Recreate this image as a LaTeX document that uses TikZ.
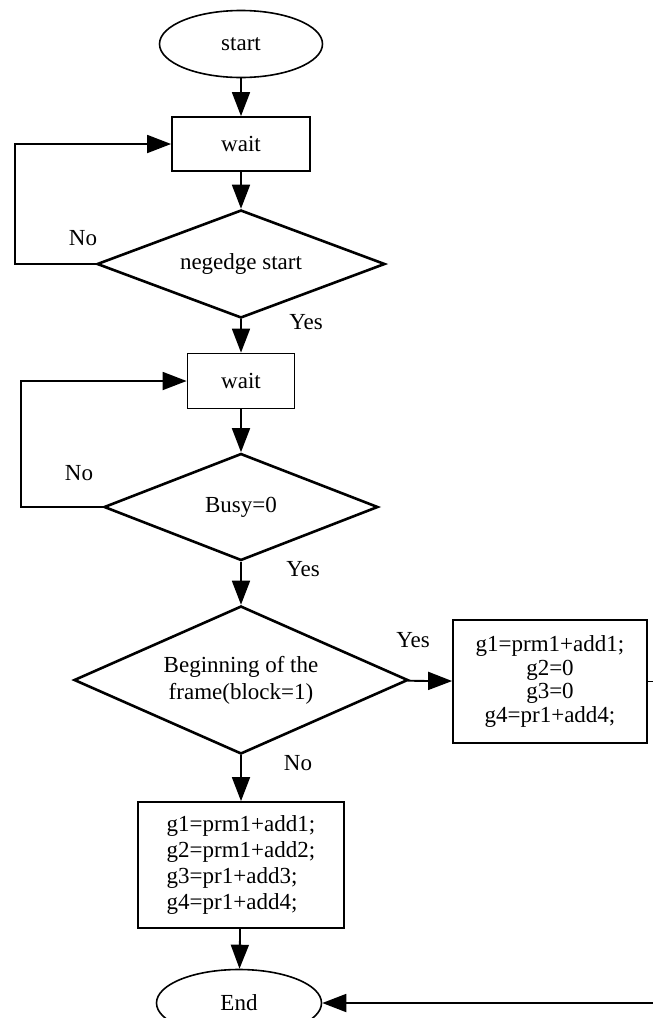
\documentclass[tikz,border=0pt]{standalone}
\usepackage{fontspec}
\setmainfont{Liberation Serif}
\usetikzlibrary{shapes.geometric,arrows.meta}

\begin{document}
\begin{tikzpicture}[x = 0.5pt, y = -0.5pt,
    font = \fontsize{11.5}{11.75}\selectfont,
    term/.style = {draw, ellipse, line width = 0.8pt, minimum width = 81.5pt, minimum height = 33.5pt},
    proc/.style = {draw, rectangle, line width = 0.9pt},
    decide/.style = {draw, diamond, line width = 1.3pt, aspect = 2.6},
    flow/.style = {line width = 0.9pt, -{Triangle[length = 12pt, width = 9pt]}}]
    \useasboundingbox (0,0) rectangle (653,1018);
    % main column
    \node[term] (start) at (241,44) {start};
    \node[proc, minimum width = 69pt, minimum height = 27pt] (waitA) at (241,144) {wait};
    \node[decide, minimum width = 144pt, minimum height = 54pt] (edge) at (241,264) {negedge start};
    \node[proc, minimum width = 53.5pt, minimum height = 27.5pt] (waitB) at (241,381) {wait};
    \node[decide, minimum width = 137pt, minimum height = 53.5pt] (busy) at (241,507) {Busy=0};
    \node[decide, minimum width = 167pt, minimum height = 74pt, align = center, font = \fontsize{11.5}{13.5}\selectfont] (frame) at (241,680) {Beginning of the\\frame(block=1)};
    \node[proc, minimum width = 97pt, minimum height = 61.5pt, align = center] (first) at (550,681.5) {g1=prm1+add1;\\g2=0\\g3=0\\g4=pr1+add4;};
    \node[proc, minimum width = 103pt, minimum height = 63pt, align = left, font = \fontsize{11.5}{13}\selectfont] (other) at (241,865) {g1=prm1+add1;\\g2=prm1+add2;\\g3=pr1+add3;\\g4=pr1+add4;};
    \node[term, minimum width = 82.5pt] (end) at (239,1003) {End};
    % labels
    \node (noA) at (83,238) {No};
    \node (yesA) at (306,322) {Yes};
    \node (noB) at (79,473) {No};
    \node (yesB) at (303,569) {Yes};
    \node (yesC) at (413,640) {Yes};
    \node (noC) at (298,763) {No};
    % connectors
    \draw[flow] (start) -- (waitA);
    \draw[flow] (waitA) -- (edge);
    \draw[flow] (edge) -- (waitB);
    \draw[flow] (waitB) -- (busy);
    \draw[flow] (busy) -- (frame);
    \draw[flow] (frame) -- (other);
    \draw[flow] (other) -- (end);
    \draw[flow] (frame) -- (first);
    \coordinate (loopA) at (15,264);
    \draw[flow] (edge.west) -- (loopA) |- (waitA.west);
    \coordinate (loopB) at (21,507);
    \draw[flow] (busy.west) -- (loopB) |- (waitB.west);
    \coordinate (backR) at (657,681.5);
    \draw[flow] (first.east) -- (backR) |- (end.east);
\end{tikzpicture}
\end{document}
